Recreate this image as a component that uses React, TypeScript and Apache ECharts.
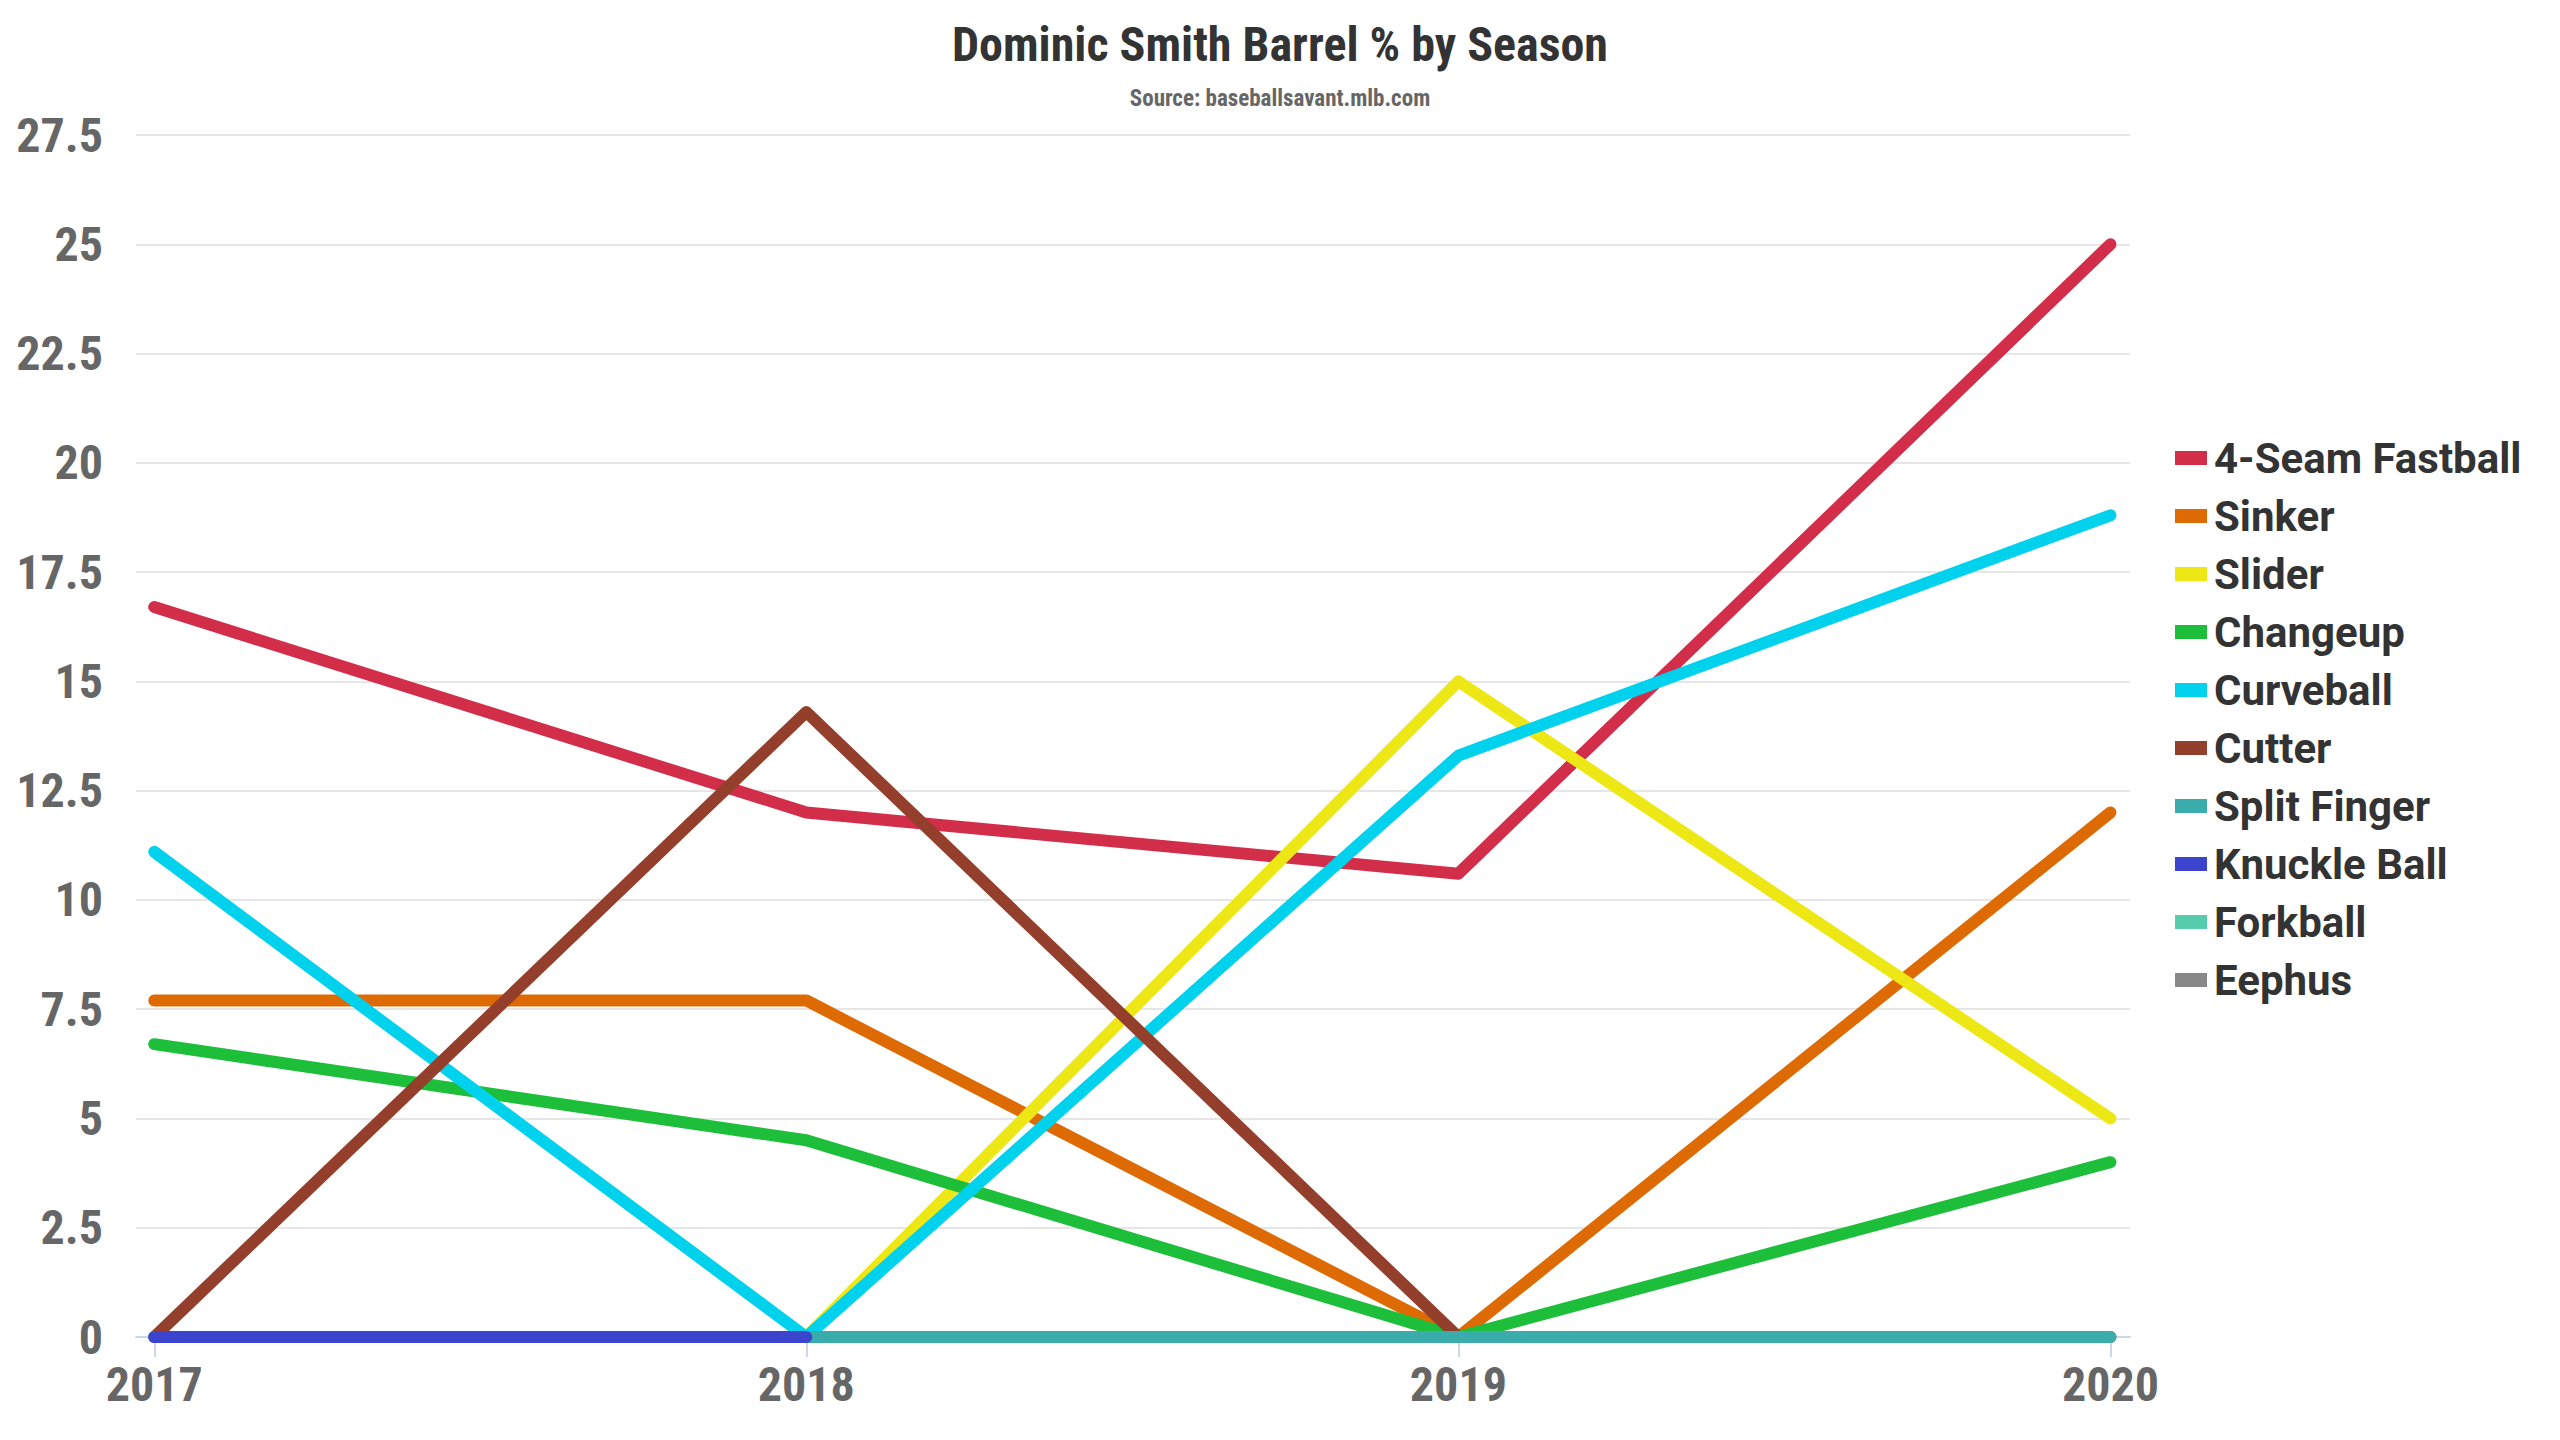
import React, { useEffect, useRef } from "react";
import * as echarts from "echarts";

const years = [2017, 2018, 2019, 2020];
const yTicks = [0, 2.5, 5, 7.5, 10, 12.5, 15, 17.5, 20, 22.5, 25, 27.5];

const pitchNames = [
  "4-Seam Fastball",
  "Sinker",
  "Slider",
  "Changeup",
  "Curveball",
  "Cutter",
  "Split Finger",
  "Knuckle Ball",
  "Forkball",
  "Eephus",
];
const pitchColors = [
  "#d22d49",
  "#de6a04",
  "#eee716",
  "#1dbe3a",
  "#00d1ed",
  "#933f2c",
  "#3bacac",
  "#3c44cd",
  "#55ccab",
  "#888888",
];

const fourSeam = [16.7, 12.0, 10.6, 25.0];
const sinker = [7.7, 7.7, 0, 12.0];
const slider = [null, 0, 15.0, 5.0];
const changeup = [6.7, 4.5, 0, 4.0];
const curveball = [11.1, 0, 13.3, 18.8];
const cutter = [0, 14.3, 0, 0];
const splitFinger = [0, 0, 0, 0];
const knuckleBall = [0, 0, null, null];
const forkball = [null, null, null, null];
const eephus = [null, null, null, null];

const seriesValues = [
  fourSeam,
  sinker,
  slider,
  changeup,
  curveball,
  cutter,
  splitFinger,
  knuckleBall,
  forkball,
  eephus,
];

const condensed =
  "'Roboto Condensed', 'Liberation Sans Narrow', 'DejaVu Sans Condensed', Roboto, sans-serif";

export default function App() {
  const ref = useRef<HTMLDivElement>(null);

  useEffect(() => {
    document.body.style.margin = "0";
    if (!ref.current) return;
    const chart = echarts.init(ref.current, undefined, { renderer: "svg" });

    const series = pitchNames.map((name, i) => ({
      name,
      type: "line",
      data: years.map((yr, j) => [yr, seriesValues[i][j] === null ? "-" : seriesValues[i][j]]),
      symbol: "none",
      showSymbol: false,
      connectNulls: false,
      color: pitchColors[i],
      lineStyle: { width: 12, color: pitchColors[i], cap: "round", join: "round" },
      emphasis: { disabled: true },
    }));

    chart.setOption({
      animation: false,
      backgroundColor: "#ffffff",
      title: [
        {
          text: "Dominic Smith Barrel % by Season",
          left: "center",
          top: 11,
          textStyle: {
            fontFamily: condensed,
            fontWeight: "bold",
            fontSize: 48,
            lineHeight: 56,
            color: "#333333",
          },
        },
        {
          text: "Source: baseballsavant.mlb.com",
          left: "center",
          top: 79,
          textStyle: {
            fontFamily: condensed,
            fontWeight: "bold",
            fontSize: 23,
            lineHeight: 28,
            color: "#666666",
          },
        },
      ],
      legend: {
        orient: "vertical",
        left: 2170,
        top: 424,
        icon: "rect",
        itemWidth: 32,
        itemHeight: 14,
        itemGap: 0,
        selectedMode: false,
        data: pitchNames,
        textStyle: {
          fontFamily: "Roboto, sans-serif",
          fontWeight: "bold",
          fontSize: 42,
          lineHeight: 58,
          color: "#333333",
          padding: [0, 0, 0, 2],
        },
      },
      grid: {
        left: 136,
        right: 430,
        top: 135,
        bottom: 103,
        containLabel: false,
      },
      xAxis: {
        type: "value",
        min: 2016.972,
        max: 2020.03,
        axisLine: { show: true, lineStyle: { color: "#ccd6eb", width: 2 } },
        axisTick: {
          show: true,
          customValues: years,
          length: 20,
          lineStyle: { color: "#ccd6eb", width: 2 },
        },
        axisLabel: {
          customValues: years,
          formatter: (v: number) => String(Math.round(v)),
          fontFamily: condensed,
          fontWeight: "bold",
          fontSize: 48,
          lineHeight: 48,
          color: "#666666",
          margin: 23,
        },
        splitLine: { show: false },
      },
      yAxis: {
        type: "value",
        min: yTicks[0],
        max: yTicks[yTicks.length - 1],
        interval: 2.5,
        axisLine: { show: false },
        axisTick: { show: false },
        axisLabel: {
          fontFamily: condensed,
          fontWeight: "bold",
          fontSize: 48,
          color: "#666666",
          margin: 33,
        },
        splitLine: { show: true, lineStyle: { color: "#e6e6e6", width: 2 } },
      },
      series,
    });

    return () => chart.dispose();
  }, []);

  return (
    <div
      ref={ref}
      style={{ width: 2560, height: 1440, position: "absolute", left: 0, top: 0 }}
    />
  );
}
